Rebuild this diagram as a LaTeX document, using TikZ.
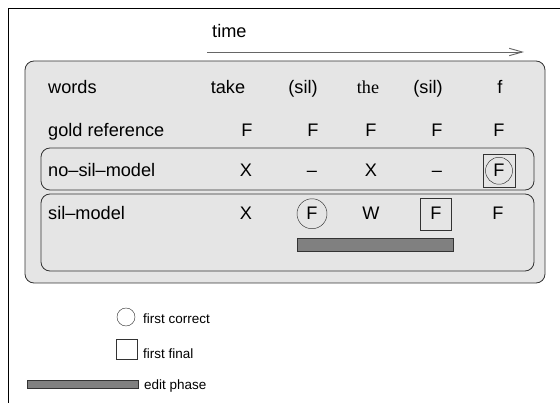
\documentclass[tikz,border=0pt]{standalone}
\usepackage{fontspec}
\setmainfont{Liberation Sans}
\newfontfamily\timesfont{Liberation Serif}
\usetikzlibrary{arrows.meta}
\definecolor{boxgray}{gray}{0.9}
\definecolor{linegray}{gray}{0.2}
\definecolor{bargray}{gray}{0.5}

\begin{document}
\begin{tikzpicture}[x=0.03cm,y=-0.03cm,
  lbl/.style={anchor=base west,font=\fontsize{15.5}{18}\selectfont,inner sep=0pt},
  cell/.style={anchor=base,font=\fontsize{15.5}{18}\selectfont,inner sep=0pt},
  leg/.style={anchor=base west,font=\fontsize{11.5}{14}\selectfont,inner sep=0pt},
  panel/.style={draw=linegray,fill=boxgray,rounded corners=0.27cm,line width=0.7pt},
  firstcorrect/.style={circle,draw=linegray,minimum size=0.88cm},
  firstfinal/.style={rectangle,draw=linegray,minimum size=0.96cm},
  editbar/.style={draw=linegray,fill=bargray,line width=0.6pt}]
\useasboundingbox (0,0) rectangle (560,403);

% frame
\draw[line width=1.3pt] (560,8.5) -- (8.5,8.5) -- (8.5,403);

% time axis
\node[lbl] (time) at (212,38) {time};
\coordinate (tstart) at (207,52);
\coordinate (tend) at (524,52);
\draw[gray!80!black,line width=0.8pt,-{Straight Barb[length=0.39cm,width=0.22cm]}] (tstart) -- (tend);

% panels
\draw[panel] (25,61) rectangle (545,283);
\draw[panel] (41,148) rectangle (534,190);
\draw[panel] (41,194) rectangle (534,271);

% row labels
\node[lbl] (words) at (48,94) {words};
\node[lbl] (gold) at (48,137) {gold reference};
\node[lbl] (nosil) at (48,177) {no--sil--model};
\node[lbl] (sil) at (48,220) {sil--model};

% words
\node[cell] (w1) at (228,94) {take};
\node[cell] (w2) at (303,94) {(sil)};
\node[cell] (w3) at (368,94) {\timesfont the};
\node[cell] (w4) at (428,94) {(sil)};
\node[cell] (w5) at (500,94) {f};

% gold reference
\foreach \x [count=\i] in {247,313,371,437,499}
  \node[cell] (g\i) at (\x,137) {F};

% no-sil-model
\node[cell] (n1) at (246,177) {X};
\node[cell] (n2) at (312,177) {--};
\node[cell] (n3) at (371,177) {X};
\node[cell] (n4) at (437,177) {--};
\node[cell,firstcorrect,minimum size=0.81cm] (n5) at (499,177) {F};
\node[firstfinal,minimum width=0.96cm,minimum height=0.99cm] at (n5.center) {};

% sil-model
\node[cell] (s1) at (246,220) {X};
\node[cell,firstcorrect,minimum size=0.9cm] (s2) at (312,220) {F};
\node[cell] (s3) at (371,220) {W};
\node[cell,firstfinal,minimum width=0.93cm,minimum height=0.96cm] (s4) at (436,220) {F};
\node[cell] (s5) at (498,220) {F};
\draw[editbar] (297,238) rectangle (453,251);

% legend
\node[firstcorrect,minimum size=0.54cm] (legcirc) at (126,317) {};
\node[leg] (legcirctxt) at (143,324) {first correct};
\node[firstfinal,minimum width=0.63cm,minimum height=0.6cm] (legbox) at (126.5,349) {};
\node[leg] (legboxtxt) at (143,358) {first final};
\draw[editbar] (27,380) rectangle (138,388);
\node[leg] (legbartxt) at (144,389) {edit phase};
\end{tikzpicture}
\end{document}
